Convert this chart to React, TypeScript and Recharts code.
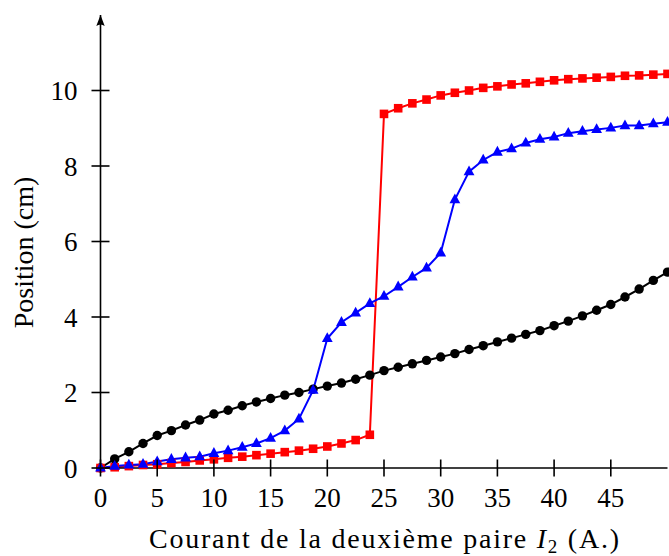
import React from 'react';
import { LineChart, Line, XAxis, YAxis, ReferenceDot } from 'recharts';

// courant I2 (A.), points every 1.25 A
const currents = [
  0, 1.25, 2.5, 3.75, 5, 6.25, 7.5, 8.75, 10, 11.25, 12.5, 13.75, 15, 16.25, 17.5, 18.75,
  20, 21.25, 22.5, 23.75, 25, 26.25, 27.5, 28.75, 30, 31.25, 32.5, 33.75, 35, 36.25, 37.5,
  38.75, 40, 41.25, 42.5, 43.75, 45, 46.25, 47.5, 48.75, 50,
];

// position (cm) - black circles
const seriesBlack = [
  0, 0.24, 0.43, 0.65, 0.86, 0.99, 1.14, 1.27, 1.43, 1.53, 1.65, 1.75, 1.84, 1.93, 2.0, 2.09,
  2.17, 2.25, 2.35, 2.46, 2.58, 2.67, 2.76, 2.85, 2.94, 3.03, 3.14, 3.24, 3.34, 3.44, 3.54,
  3.64, 3.77, 3.89, 4.03, 4.18, 4.33, 4.53, 4.74, 4.97, 5.19,
];

// red squares
const seriesRed = [
  0, 0.02, 0.05, 0.08, 0.1, 0.13, 0.16, 0.2, 0.23, 0.27, 0.3, 0.34, 0.38, 0.42, 0.46, 0.51,
  0.57, 0.65, 0.74, 0.88, 9.38, 9.53, 9.66, 9.76, 9.87, 9.94, 10.0, 10.07, 10.11, 10.16, 10.19,
  10.23, 10.27, 10.3, 10.32, 10.34, 10.36, 10.39, 10.4, 10.42, 10.44,
];

// blue triangles
const seriesBlue = [
  0, 0.05, 0.08, 0.1, 0.17, 0.23, 0.27, 0.3, 0.39, 0.46, 0.55, 0.65, 0.79, 0.99, 1.3, 2.06,
  3.43, 3.86, 4.11, 4.36, 4.55, 4.8, 5.06, 5.3, 5.7, 7.11, 7.85, 8.16, 8.37, 8.46, 8.61,
  8.71, 8.77, 8.87, 8.92, 8.97, 9.01, 9.07, 9.07, 9.12, 9.16,
];

const xTicks = [0, 5, 10, 15, 20, 25, 30, 35, 40, 45];
const yTicks = [0, 2, 4, 6, 8, 10];

const serif = { fontFamily: 'Liberation Serif' };

const data = currents.map((c, i) => ({
  x: c,
  black: seriesBlack[i],
  red: seriesRed[i],
  blue: seriesBlue[i],
}));

const CircleDot = (p: any) => (
  <circle key={`c-${p.index}`} cx={p.cx} cy={p.cy} r={4.7} fill="#000" />
);

const SquareDot = (p: any) => (
  <rect key={`s-${p.index}`} x={p.cx - 4.3} y={p.cy - 4.3} width={8.6} height={8.6} fill="#ff0000" />
);

const TriangleDot = (p: any) => (
  <path
    key={`t-${p.index}`}
    d={`M${p.cx},${p.cy - 6.2} L${p.cx + 5.4},${p.cy + 3.6} L${p.cx - 5.4},${p.cy + 3.6} Z`}
    fill="#0000ff"
  />
);

const XTick = ({ x, y, payload }: any) => (
  <g>
    <line x1={x} x2={x} y1={y - 8.5} y2={y + 8.5} stroke="#000" strokeWidth={1.6} />
    <text x={x} y={y + 39} textAnchor="middle" fontSize={27} style={serif} fill="#000">
      {payload.value}
    </text>
  </g>
);

const YTick = ({ x, y, payload }: any) => (
  <g>
    <line x1={x - 9} x2={x + 9} y1={y} y2={y} stroke="#000" strokeWidth={1.6} />
    <text x={x - 23} y={y + 9.5} textAnchor="end" fontSize={27} style={serif} fill="#000">
      {payload.value}
    </text>
  </g>
);

const XTitle = ({ viewBox }: any) => {
  const cx = viewBox.x + viewBox.width / 2;
  return (
    <text
      x={cx}
      y={viewBox.y + 80}
      textAnchor="middle"
      fontSize={28}
      style={serif}
      fill="#000"
      textLength={470}
      lengthAdjust="spacing"
    >
      Courant de la deuxième paire <tspan fontStyle="italic">I</tspan>
      <tspan fontSize={19} dy={5}>2</tspan>
      <tspan dy={-5}> (A.)</tspan>
    </text>
  );
};

const YTitle = ({ viewBox }: any) => {
  const cy = viewBox.y + viewBox.height / 2 + 11;
  const bx = 33;
  return (
    <text
      x={bx}
      y={cy}
      transform={`rotate(-90 ${bx} ${cy})`}
      textAnchor="middle"
      fontSize={28}
      style={serif}
      fill="#000"
    >
      Position (cm)
    </text>
  );
};

const ArrowUp = (p: any) => (
  <path
    d={`M${p.cx},${p.cy} L${p.cx + 4.2},${p.cy + 11} Q${p.cx},${p.cy + 8} ${p.cx - 4.2},${p.cy + 11} Z`}
    fill="#000"
  />
);

const App = () => {
  return (
    <div style={{ position: 'absolute', left: 0, top: 0, background: '#fff' }}>
      <LineChart
        width={669}
        height={556}
        data={data}
        margin={{ top: 15, right: 1.5, bottom: 0, left: 0 }}
      >
        <XAxis
          dataKey="x"
          type="number"
          domain={[0, 50]}
          ticks={xTicks}
          interval={0}
          height={88}
          tickSize={0}
          tickMargin={0}
          tickLine={false}
          tick={<XTick />}
          axisLine={{ stroke: '#000', strokeWidth: 1.6 }}
          label={{ content: <XTitle /> }}
        />
        <YAxis
          type="number"
          domain={[0, 12]}
          ticks={yTicks}
          interval={0}
          width={100.5}
          tickSize={0}
          tickMargin={0}
          tickLine={false}
          tick={<YTick />}
          axisLine={{ stroke: '#000', strokeWidth: 1.6 }}
          label={{ content: <YTitle /> }}
        />
        <ReferenceDot x={0} y={12} ifOverflow="visible" shape={ArrowUp} />
        <Line
          type="linear"
          dataKey="black"
          stroke="#000"
          strokeWidth={2}
          dot={CircleDot}
          activeDot={false}
          isAnimationActive={false}
        />
        <Line
          type="linear"
          dataKey="red"
          stroke="#ff0000"
          strokeWidth={2}
          dot={SquareDot}
          activeDot={false}
          isAnimationActive={false}
        />
        <Line
          type="linear"
          dataKey="blue"
          stroke="#0000ff"
          strokeWidth={2}
          dot={TriangleDot}
          activeDot={false}
          isAnimationActive={false}
        />
      </LineChart>
    </div>
  );
};

export default App;
